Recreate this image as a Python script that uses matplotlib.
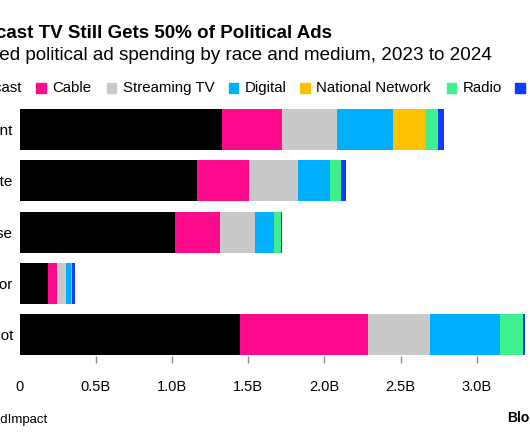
import matplotlib
matplotlib.use("Agg")
import matplotlib.pyplot as plt
from matplotlib.patches import Rectangle
import numpy as np

plt.rcParams["font.family"] = ["Liberation Sans", "DejaVu Sans"]

races = ["President", "Senate", "House", "Governor", "Down ballot"]
media = ["Broadcast", "Cable", "Streaming TV", "Digital", "National Network", "Radio", "Other"]
colors = ["#000000", "#ff0a8c", "#c9c9c9", "#00b0ff", "#ffc200", "#3ff08f", "#0a3cff"]

# spending in billions of dollars, one list per medium (races in order above)
broadcast = [1.33, 1.165, 1.02, 0.19, 1.445]
cable = [0.39, 0.343, 0.297, 0.059, 0.844]
streaming = [0.365, 0.322, 0.228, 0.054, 0.405]
digital = [0.367, 0.208, 0.127, 0.035, 0.459]
national = [0.214, 0.0, 0.0, 0.0, 0.0]
radio = [0.083, 0.074, 0.044, 0.007, 0.151]
other = [0.039, 0.033, 0.007, 0.016, 0.015]
series = [broadcast, cable, streaming, digital, national, radio, other]

xticks = [0, 0.5, 1.0, 1.5, 2.0, 2.5, 3.0]
xticklabels = ["0", "0.5B", "1.0B", "1.5B", "2.0B", "2.5B", "3.0B"]

W, H = 530, 442
fig = plt.figure(figsize=(W / 100, H / 100), dpi=100)
px = lambda x: x / W
py = lambda y: 1 - y / H

# axes placed in pixel terms of the (cropped) original
ax = fig.add_axes([px(19.5), py(356), px(530 - 19.5), (356 - 104) / H])
y = np.arange(len(races))
left = np.zeros(len(races))
for vals, c, name in zip(series, colors, media):
    ax.barh(y, vals, left=left, height=0.8, color=c, label=name, linewidth=0)
    left += np.array(vals)

ax.set_xlim(0, (530 - 19.5) / 152.4)
ax.set_ylim(4.42, -0.5)
ax.set_yticks(y)
ax.set_yticklabels(races, fontsize=11)
ax.tick_params(axis="y", length=0, pad=4.7)
ax.set_xticks(xticks)
ax.set_xticklabels(xticklabels, fontsize=10.5)
ax.tick_params(axis="x", length=5, width=1, color="#8c8c8c", pad=12)
ax.xaxis.get_major_ticks()[0].tick1line.set_visible(False)
for s in ax.spines.values():
    s.set_visible(False)

# title block (left side cropped off in the original)
fig.text(px(332), py(33), "Broadcast TV Still Gets 50% of Political Ads",
         ha="right", va="center", fontsize=13.5, fontweight="bold")
fig.text(px(492), py(56), "Projected political ad spending by race and medium, 2023 to 2024",
         ha="right", va="center", fontsize=13.6)

# legend drawn by hand
fig.text(px(22.7), py(88), media[0], ha="right", va="center", fontsize=10.8)
sq_x = [36, 106.7, 228.7, 300, 446.7, 515]
for sx, name, c in zip(sq_x, media[1:], colors[1:]):
    fig.add_artist(Rectangle((px(sx), py(92.5)), px(9.5), 9.5 / H, color=c,
                             transform=fig.transFigure))
    fig.text(px(sx + 16), py(88), name, ha="left", va="center", fontsize=10.8)

fig.text(px(47), py(420), "Source: AdImpact", ha="right", va="center", fontsize=9.5)
fig.text(px(507), py(418), "Bloomberg", ha="left", va="center", fontsize=10, fontweight="bold")

fig.savefig("out.png", dpi=100)
